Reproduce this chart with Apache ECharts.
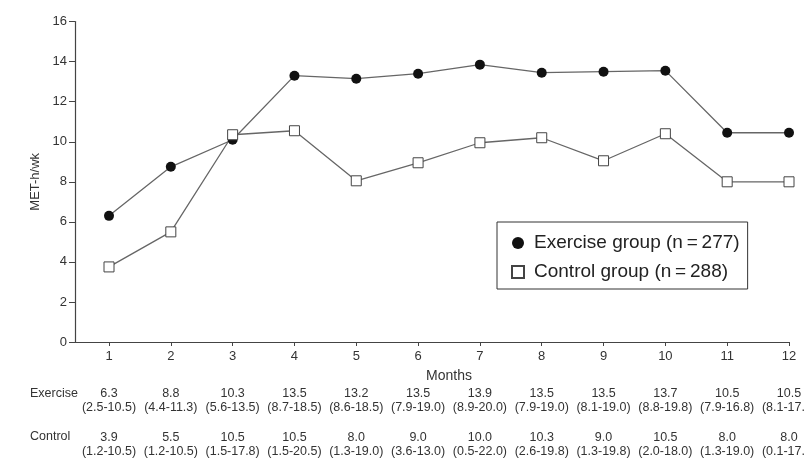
<!DOCTYPE html>
<html>
<head>
<meta charset="utf-8">
<script src="https://cdn.jsdelivr.net/npm/echarts@6/dist/echarts.min.js"></script>
<style>html,body{margin:0;padding:0;background:#fff}#c{width:805px;height:459px}</style>
</head>
<body>
<div id="c"></div>
<script>
var months = [1,2,3,4,5,6,7,8,9,10,11,12];
var yTicks = [0,2,4,6,8,10,12,14,16];
var exercisePlot = [6.3, 8.75, 10.1, 13.3, 13.15, 13.4, 13.85, 13.45, 13.5, 13.55, 10.45, 10.45];
var controlPlot = [3.75, 5.5, 10.35, 10.55, 8.05, 8.95, 9.95, 10.2, 9.05, 10.4, 8.0, 8.0];
var exerciseMedian = ['6.3','8.8','10.3','13.5','13.2','13.5','13.9','13.5','13.5','13.7','10.5','10.5'];
var exerciseRange = ['(2.5-10.5)','(4.4-11.3)','(5.6-13.5)','(8.7-18.5)','(8.6-18.5)','(7.9-19.0)','(8.9-20.0)','(7.9-19.0)','(8.1-19.0)','(8.8-19.8)','(7.9-16.8)','(8.1-17.5)'];
var controlMedian = ['3.9','5.5','10.5','10.5','8.0','9.0','10.0','10.3','9.0','10.5','8.0','8.0'];
var controlRange = ['(1.2-10.5)','(1.2-10.5)','(1.5-17.8)','(1.5-20.5)','(1.3-19.0)','(3.6-13.0)','(0.5-22.0)','(2.6-19.8)','(1.3-19.8)','(2.0-18.0)','(1.3-19.0)','(0.1-17.5)'];
var names = ['Exercise group (n\u2009=\u2009277)', 'Control group (n\u2009=\u2009288)'];

var FONT = '"Liberation Sans", Arial, sans-serif';
var TXT = '#333';
var AX = '#444';

function pair(x, y){ return x.map(function(m,i){ return [m, y[i]]; }); }
function tableAxis(offset, med, rng){
  return {
    type:'value', min:0.45, max:12, position:'bottom', offset:offset,
    axisLine:{show:false}, axisTick:{show:false}, splitLine:{show:false},
    axisLabel:{
      customValues: months, margin:0, fontFamily:FONT, fontSize:12.5, lineHeight:14, color:TXT,
      showMinLabel:true, showMaxLabel:true, hideOverlap:false,
      formatter:function(v){ var i = months.indexOf(v); return i<0 ? '' : med[i] + '\n' + rng[i]; }
    }
  };
}

var chart = echarts.init(document.getElementById('c'));
chart.setOption({
  animation:false,
  backgroundColor:'#fff',
  grid:{left:75, right:16, top:21.6, bottom:117, containLabel:false, outerBoundsMode:'none'},
  legend:{
    orient:'vertical', left:497, top:222,
    data:[{name:names[0], icon:'circle'},{name:names[1], icon:'rect'}],
    itemWidth:12, itemHeight:12, itemGap:9,
    padding:[11, 8, 7, 14],
    borderColor:'#333', borderWidth:1, borderRadius:0,
    textStyle:{fontFamily:FONT, fontSize:19, lineHeight:20, color:'#222', padding:[0,0,0,5]}
  },
  xAxis:[
    {
      type:'value', min:0.45, max:12,
      name:'Months', nameLocation:'middle', nameGap:27,
      nameTextStyle:{fontFamily:FONT, fontSize:14, color:TXT, padding:[0,0,0,34]},
      axisLine:{show:true, lineStyle:{color:AX, width:1.2}},
      axisTick:{show:true, customValues:months, length:4, lineStyle:{color:AX}},
      axisLabel:{customValues:months, margin:8, fontFamily:FONT, fontSize:13, color:TXT, showMinLabel:true, showMaxLabel:true},
      splitLine:{show:false}
    },
    tableAxis(45, exerciseMedian, exerciseRange),
    tableAxis(89, controlMedian, controlRange)
  ],
  yAxis:{
    type:'value', min:0, max:16, interval:2,
    name:'MET-h/wk', nameLocation:'middle', nameGap:30,
    nameTextStyle:{fontFamily:FONT, fontSize:13, color:TXT},
    axisLine:{show:true, lineStyle:{color:AX, width:1.2}},
    axisTick:{show:true, length:6, lineStyle:{color:AX}},
    axisLabel:{margin:8, fontFamily:FONT, fontSize:13, color:TXT},
    splitLine:{show:false}
  },
  graphic:[
    {type:'text', left:30, top:387, style:{text:'Exercise', fontFamily:FONT, fontSize:12.5, fill:TXT}},
    {type:'text', left:30, top:430, style:{text:'Control', fontFamily:FONT, fontSize:12.5, fill:TXT}}
  ],
  series:[
    {
      name:names[0], type:'line', data:pair(months, exercisePlot),
      symbol:'circle', symbolSize:10,
      lineStyle:{color:'#666', width:1.3},
      itemStyle:{color:'#111', borderColor:'#111', borderWidth:0}
    },
    {
      name:names[1], type:'line', data:pair(months, controlPlot),
      symbol:'rect', symbolSize:10,
      lineStyle:{color:'#666', width:1.3},
      itemStyle:{color:'#fff', borderColor:'#444', borderWidth:1}
    }
  ]
});
</script>
</body>
</html>
